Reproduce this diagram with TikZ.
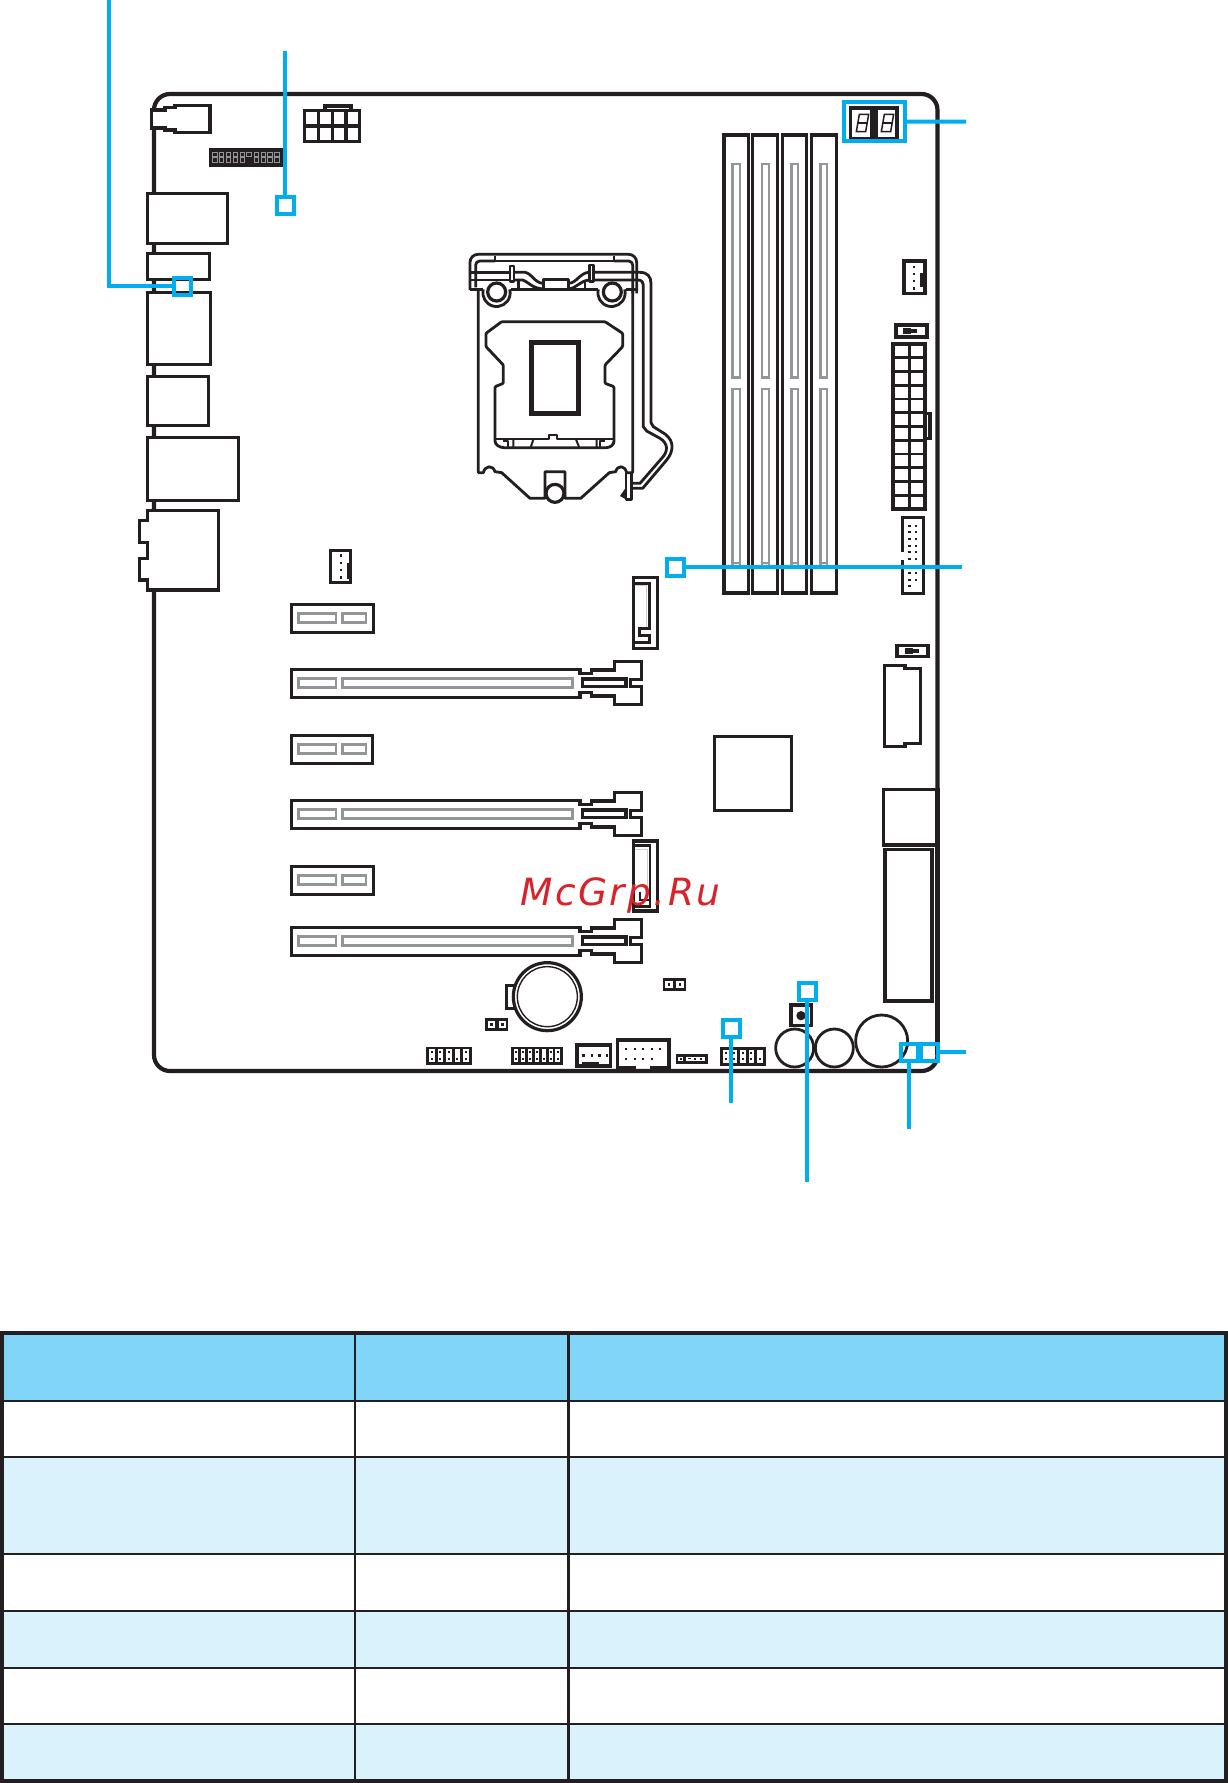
\documentclass[tikz,border=0pt]{standalone}
\usepackage{fontspec}
\setmainfont{DejaVu Sans}
\definecolor{ink}{HTML}{231F20}
\definecolor{slotgray}{HTML}{939598}
\definecolor{leadblue}{HTML}{00AEEF}
\definecolor{headblue}{HTML}{80D5F9}
\definecolor{rowblue}{HTML}{D9F2FC}
\definecolor{wmred}{HTML}{D8232A}
\tikzset{
  z/.style 2 args={shift={(#1,#2)},x=0.33333pt,y=-0.33333pt},
  comp/.style={draw=ink,line width=3.1pt,fill=white,line join=miter},
  wire/.style={draw=ink,line width=3.1pt,line join=miter},
  gridw/.style={draw=ink,line width=2.7pt},
  thinw/.style={draw=ink,line width=2.8pt,line join=round},
  finew/.style={draw=ink,line width=2pt,line join=round},
  gslot/.style={draw=slotgray,line width=2.8pt},
  marker/.style={draw=leadblue,line width=4pt,rectangle,inner sep=0pt,outer sep=0pt,minimum size=17pt},
  leader/.style={draw=leadblue,line width=4pt},
  gridline/.style={draw=ink,line width=2.1pt},
}
\newcommand\pinat[1]{\fill[ink] (#1) ++(-3.5,-3.5) rectangle ++(7,7);}
\newcommand\hdrbox[5]{%
  \pgfmathsetmacro\hw{10+#3*#5}
  \fill[ink] (#1,#2) rectangle ++(\hw,55);
  \foreach \i in {1,...,#3}{
    \pgfmathsetmacro\xa{#1+9+(\i-1)*#5}
    \pgfmathsetmacro\pa{\xa+(#5-8)/2-3}
    \fill[white] (\xa,#2+8) rectangle ++(#5-8,39);
    \ifnum\i=#4\else\fill[ink] (\pa,#2+13) rectangle ++(6,6);\fi
    \fill[ink] (\pa,#2+33) rectangle ++(6,6);
  }}
\newcommand\jumperat[2]{%
  \fill[ink] (#1,#2) rectangle ++(69,37);
  \fill[white] (#1+7,#2+8) rectangle ++(23,21);
  \fill[white] (#1+40,#2+8) rectangle ++(23,21);
  \fill[ink] (#1+15,#2+15) rectangle ++(7,7);
  \fill[ink] (#1+48,#2+15) rectangle ++(7,7);}
\newcommand\shortslot[2]{% top y, right x
  \path[comp] (34,#1) rectangle (#2,#1+84);
  \path[gslot] (55,#1+27) rectangle (168,#1+55);
  \path[gslot] (187,#1+27) rectangle (258,#1+55);}
\newcommand\longslot[1]{%
  \begin{scope}[shift={(0,#1)}]
  \path[comp] (34,238) -- (900,238) -- (900,250) -- (935,250) -- (935,240) -- (1003,240) -- (1003,214) -- (1085,214) -- (1085,268) -- (1052,268) -- (1052,290) -- (1085,290) -- (1085,344) -- (1003,344) -- (1003,318) -- (935,318) -- (935,307) -- (900,307) -- (900,322) -- (34,322) -- cycle;
  \path[wire] (908,267) -- (1038,267) -- (1038,290) -- (908,290) -- cycle;
  \path[gslot] (55,265) rectangle (168,293);
  \path[gslot] (187,265) rectangle (878,293);
  \end{scope}}
\newcommand\digitseg[1]{%
  \path[draw=ink,line width=1.5pt] (478+#1,103) -- (506+#1,103) -- (497+#1,155) -- (469+#1,155) -- cycle;
  \path[draw=ink,line width=1.5pt] (473+#1,129) -- (501+#1,129);}
\begin{document}
\begin{tikzpicture}[x=1pt,y=-1pt]
\useasboundingbox (0,0) rectangle (1227,1783);
\fill[white] (0,0) rectangle (1227,1783);

% board
\draw[draw=ink,line width=4.2pt,rounded corners=16pt] (154,94) rectangle (937.5,1071);

% ---- left and top components (zoom 1 frame)
\begin{scope}[z={130}{80}]
  \path[comp] (64,90) -- (105,90) -- (105,82) -- (135,82) -- (135,76) -- (240,76) -- (240,158) -- (135,158) -- (135,150) -- (105,150) -- (105,144) -- (64,144) -- cycle;
  \path[comp] (52,340) rectangle (293,490);
  \path[comp] (52,520) rectangle (238,598);
  \path[comp] (52,637) rectangle (242,854);
  \path[comp] (52,889) rectangle (236,1036);
  \path[comp] (52,1072) rectangle (326,1262);
  \path[comp] (52,1292) -- (266,1292) -- (266,1530) -- (52,1530) -- (52,1500) -- (28,1500) -- (28,1436) -- (52,1436) -- (52,1388) -- (28,1388) -- (28,1322) -- (52,1322) -- cycle;
  % black pin header
  \fill[ink] (237,204) rectangle (460,260);
  \foreach \c in {0,...,9}{
    \pgfmathsetmacro\cx{248+\c*20.7}
    \ifnum\c=5
      \path[draw=slotgray,line width=0.9pt] (\cx-1,216) rectangle ++(14,12);
    \else
      \path[draw=slotgray,line width=0.9pt] (\cx,216) rectangle ++(13,14);
      \path[draw=slotgray,line width=0.9pt] (\cx,232) rectangle ++(13,14);
    \fi
  }
  % 8-pin power
  \path[comp] (585,78) rectangle (663,91);
  \path[comp] (523,91) rectangle (689,185);
  \path[wire] (566,91) -- (566,185) (608,91) -- (608,185) (648,91) -- (648,185) (523,138) -- (689,138);
  % fan
  \path[comp] (601,1411) rectangle (662,1508);
  \pinat{632,1426}\pinat{632,1448}\pinat{632,1470}\pinat{632,1492}
  \fill[ink] (650,1448) rectangle (660,1498);
\end{scope}

% ---- CPU socket (zoom 2 frame)
\begin{scope}[z={450}{230}]
  % lever and clip
  \path[thinw,rounded corners=8pt] (60,180) -- (60,73) -- (560,73) -- (560,190);
  \path[thinw] (135,93) -- (492,93);
  \path[thinw,rounded corners=4pt] (77,172) -- (77,93) -- (135,93);
  \path[thinw] (135,93) -- (135,78);
  \path[thinw] (492,78) -- (492,93);
  \path[thinw,rounded corners=4pt] (492,93) -- (548,93) -- (548,190);
  \path[thinw] (60,128) -- (185,128) (60,150) -- (190,150);
  \path[thinw] (430,127) -- (570,127) .. controls (592,127) and (603,140) .. (603,160) -- (603,578) -- (610,590) -- (645,612) .. controls (675,635) and (670,665) .. (650,690) -- (578,775) -- (548,775);
  \path[thinw] (430,150) -- (565,150) .. controls (575,150) and (580,157) .. (580,170) -- (580,590) -- (590,603) -- (630,625) .. controls (655,640) and (655,665) .. (635,685) -- (570,760) -- (548,760);
  % middle wave
  \path[thinw] (192,127) -- (225,127) .. controls (245,130) and (255,160) .. (280,160);
  \path[thinw] (195,150) -- (218,150) .. controls (235,155) and (245,175) .. (280,177);
  \path[thinw] (355,160) .. controls (380,160) and (390,127) .. (418,127);
  \path[thinw] (355,177) .. controls (380,175) and (390,152) .. (418,150);
  \path[thinw,fill=white] (280,148) rectangle (355,177);
  \path[thinw,fill=white] (180,108) rectangle (192,155);
  \path[thinw,fill=white] (418,105) rectangle (430,155);
  \path[thinw] (205,150) -- (205,178) (405,150) -- (405,178);
  % plate
  \path[thinw] (85,178) -- (85,728) -- (100,728) .. controls (105,706) and (128,704) .. (135,725) -- (155,728) -- (240,805) -- (285,805) -- (285,725) -- (345,725) -- (345,805) -- (392,805) -- (478,728) -- (497,725) .. controls (503,704) and (525,706) .. (530,728) -- (548,728) -- (548,178);
  \path[thinw] (60,178) -- (100,178) (182,178) -- (445,178) (527,178) -- (560,178);
  % knobs
  \path[thinw,fill=white] (100,178) arc[start angle=195,end angle=-15,x radius=41,y radius=41];
  \path[thinw,fill=white] (445,178) arc[start angle=195,end angle=-15,x radius=41,y radius=41];
  \path[draw=ink,line width=3.2pt,fill=white] (140,186) circle[radius=27];
  \path[draw=ink,line width=3.2pt,fill=white] (487,186) circle[radius=27];
  \path[draw=ink,line width=3.2pt,fill=white] (315,790) circle[radius=27];
  % hook
  \path[thinw] (528,730) -- (528,808) -- (545,808) -- (545,730);
  \fill[ink] (528,772) -- (510,798) -- (528,808) -- cycle;
  % socket
  \path[thinw,rounded corners=1pt] (155,275) -- (465,275) -- (518,310) -- (518,350) -- (465,405) -- (465,460) -- (492,470) -- (492,630) .. controls (492,645) and (480,653) .. (465,653) -- (165,653) .. controls (150,653) and (135,645) .. (135,630) -- (135,470) -- (160,460) -- (160,405) -- (108,350) -- (108,310) -- cycle;
  \path[finew] (135,628) -- (297,628) -- (297,615) -- (322,615) -- (322,628) -- (492,628);
  \path[finew] (190,628) -- (190,653) (250,628) -- (242,653) (378,628) -- (388,653) (440,628) -- (440,653);
  \path[finew] (160,634) -- (175,634) -- (175,653) (465,634) -- (450,634) -- (450,653);
  \path[draw=ink,line width=5.6pt] (245,338) rectangle (385,550);
\end{scope}

% ---- DIMM slots
\foreach \xl/\xr/\gl/\gr in {724/748.2/732.3/740, 752.5/777.2/762/769, 782.5/806.2/791.7/798, 811.5/836.2/820.7/827}{
  \path[comp,fill=none] (\xl,135) rectangle (\xr,593);
  \path[gslot] (\gl,164) rectangle (\gr,377.7);
  \path[gslot] (\gl,565) -- (\gl,389) -- (\gr,389) -- (\gr,565);
  \path[draw=slotgray,line width=2.8pt] (\gl,563) -- (\gr,563);
}

% ---- top right (zoom 3 frame)
\begin{scope}[z={700}{80}]
  \path[comp] (452,84) rectangle (516,176);
  \path[comp] (528,84) rectangle (591,176);
  \digitseg{0}
  \digitseg{75}
  \path[comp] (612,543) rectangle (675,641);
  \pinat{642,560}\pinat{642,582}\pinat{642,603}\pinat{642,625}
  \fill[ink] (660,580) rectangle (670,622);
  \path[comp] (588,735) rectangle (681,771);
  \fill[ink] (610,743) rectangle (632,762);
  \fill[ink] (632,748) rectangle (652,758);
\end{scope}

% ---- ATX connector and right column (zoom 4 frame)
\begin{scope}[z={640}{400}]
  \path[wire] (855,40) -- (870,40) -- (870,115) -- (855,115);
  \path[comp] (733,796) -- (795,796) -- (795,805) -- (842,805) -- (842,1030) -- (795,1030) -- (795,1040) -- (733,1040) -- cycle;
  \path[comp] (223,1009) rectangle (455,1232);
  \path[wire] (787,455) -- (787,352) -- (850,352) -- (850,580) -- (787,580) -- (787,480);
  \foreach \py in {377,397,417,437,457,477,519,540}{
    \fill[ink] (804,\py-3) rectangle ++(8,6);
    \fill[ink] (825,\py-3) rectangle ++(6,6);
  }
  \fill[ink] (804,555) rectangle ++(8,6);
  \path[comp] (771,736) rectangle (864,770);
  \fill[ink] (795,745) rectangle (820,763);
  \fill[ink] (820,748) rectangle (837,760);
\end{scope}
\path[comp] (893,344) rectangle (925,509);
\path[gridw] (909.3,344) -- (909.3,509);
\foreach \r in {1,...,11}{\path[gridw] (893,344+\r*13.75) -- (925,344+\r*13.75);}
\path[comp] (883.3,789.3) rectangle (937.5,845);
\path[comp] (885,849.5) rectangle (932,1001);
\draw[draw=ink,line width=4.2pt] (937.5,787.7) -- (937.5,1055);

% ---- expansion slots (zoom 6 frame)
\begin{scope}[z={280}{590}]
  \shortslot{43}{281}
  \longslot{0}
  \shortslot{436}{278}
  \longslot{393}
  \shortslot{829}{281}
  \longslot{774}
\end{scope}

% ---- SATA connectors
\begin{scope}[z={620}{565}]
  \path[comp] (40,37) rectangle (112,250);
  \path[draw=slotgray!45,line width=1.2pt] (46,62) -- (80,62) -- (80,185);
  \path[wire,line width=2.8pt] (42,55) -- (88,55) -- (88,190) -- (58,190) -- (58,212) -- (88,212) -- (88,232) -- (42,232);
\end{scope}
\begin{scope}[z={620}{830}]
  \path[comp] (40,33) rectangle (112,243);
  \path[draw=slotgray!45,line width=1.2pt] (46,58) -- (82,58) -- (82,180);
  \path[wire,line width=2.8pt] (42,47) -- (90,47) -- (90,230) -- (42,230);
  \path[wire,line width=2.8pt] (60,185) -- (60,210) -- (90,210);
\end{scope}

% ---- lower board (zoom 8 frame)
\begin{scope}[z={410}{950}]
  \path[comp] (320,107) -- (290,107) -- (290,175) -- (320,175);
  \path[draw=ink,line width=3.2pt,fill=white] (412,140) circle[radius=102];
  \path[draw=ink,line width=1.4pt] (412,140) circle[radius=90];
  \jumperat{226}{205}
  \jumperat{759}{85}
  \hdrbox{48}{290}{5}{4}{25.5}
  \hdrbox{303}{290}{7}{5}{20.7}
  \path[comp] (501,285) rectangle (601,348);
  \pinat{520,316}\pinat{545,316}\pinat{568,316}\pinat{590,316}
  \fill[ink] (515,335) rectangle (567,347);
  \path[wire] (678,352) -- (622,352) -- (622,270) -- (777,270) -- (777,352) -- (720,352);
  \foreach \px in {648,674,700,725,750}{\fill[ink] (\px-3,295) rectangle ++(6,6);}
  \foreach \px in {648,674,700,725}{\fill[ink] (\px-3,323) rectangle ++(6,6);}
\end{scope}
\begin{scope}[z={660}{960}]
  \fill[ink] (48,283) rectangle (143,311);
  \fill[white] (55,290) rectangle (70,304);
  \fill[ink] (60,294) rectangle ++(6,6);
  \fill[white] (78,292) rectangle (136,302);
  \fill[ink] (85,295) rectangle ++(8,3);
  \fill[ink] (102,294) rectangle ++(5,5);
  \fill[ink] (120,294) rectangle ++(5,5);
  \hdrbox{180}{262}{5}{5}{25.5}
  \path[comp] (393,135) rectangle (455,197);
  \fill[ink] (423,167) circle[radius=14];
  \path[draw=ink,line width=2.8pt] (404,264) circle[radius=57];
  \path[draw=ink,line width=2.8pt] (523,264) circle[radius=57];
  \path[draw=ink,line width=2.8pt] (665,243) circle[radius=78];
\end{scope}

% ---- leaders
\coordinate (e1) at (285,51);
\coordinate (e2a) at (109,286);
\coordinate (e2b) at (109,0);
\coordinate (e3) at (966,121.7);
\coordinate (e4) at (962,567);
\coordinate (e5) at (731,1103);
\coordinate (e6) at (807,1182);
\coordinate (e7) at (909,1129);
\coordinate (e8) at (966,1052);
\node[marker] (m1) at (285,205) {};
\node[marker] (m2) at (182,286) {};
\node[marker,minimum width=61pt,minimum height=39pt] (m3) at (874.5,121.5) {};
\node[marker] (m4) at (675,567) {};
\node[marker] (m5) at (731,1028) {};
\node[marker] (m6) at (807,991) {};
\node[marker] (m7) at (909,1052) {};
\node[marker] (m8) at (929.3,1052) {};
\draw[leader] (m1) -- (e1);
\draw[leader] (m2) -- (e2a) -- (e2b);
\draw[leader] (m3) -- (e3);
\draw[leader] (m4) -- (e4);
\draw[leader] (m5) -- (e5);
\draw[leader] (m6) -- (e6);
\draw[leader] (m7) -- (e7);
\draw[leader] (m8) -- (e8);

% ---- table
\fill[headblue] (0,1333) rectangle (1227,1401);
\fill[rowblue] (0,1457.5) rectangle (1227,1554);
\fill[rowblue] (0,1611) rectangle (1227,1667.7);
\fill[rowblue] (0,1723.7) rectangle (1227,1781);
\foreach \ry in {1400.7,1457.3,1554,1611,1667.7,1723.7}{\draw[gridline] (0,\ry) -- (1227,\ry);}
\foreach \rx in {354.6,568.5}{\draw[gridline] (\rx,1333) -- (\rx,1781);}
\draw[draw=ink,line width=4pt] (1.5,1333) rectangle (1225.5,1781);

% ---- watermark
\node[anchor=base west,inner sep=0pt,text=wmred,font=\fontsize{37.5}{37.5}\selectfont\itshape\addfontfeatures{LetterSpace=6.5}] (wm) at (520,905) {McGrp.Ru};
\end{tikzpicture}
\end{document}
